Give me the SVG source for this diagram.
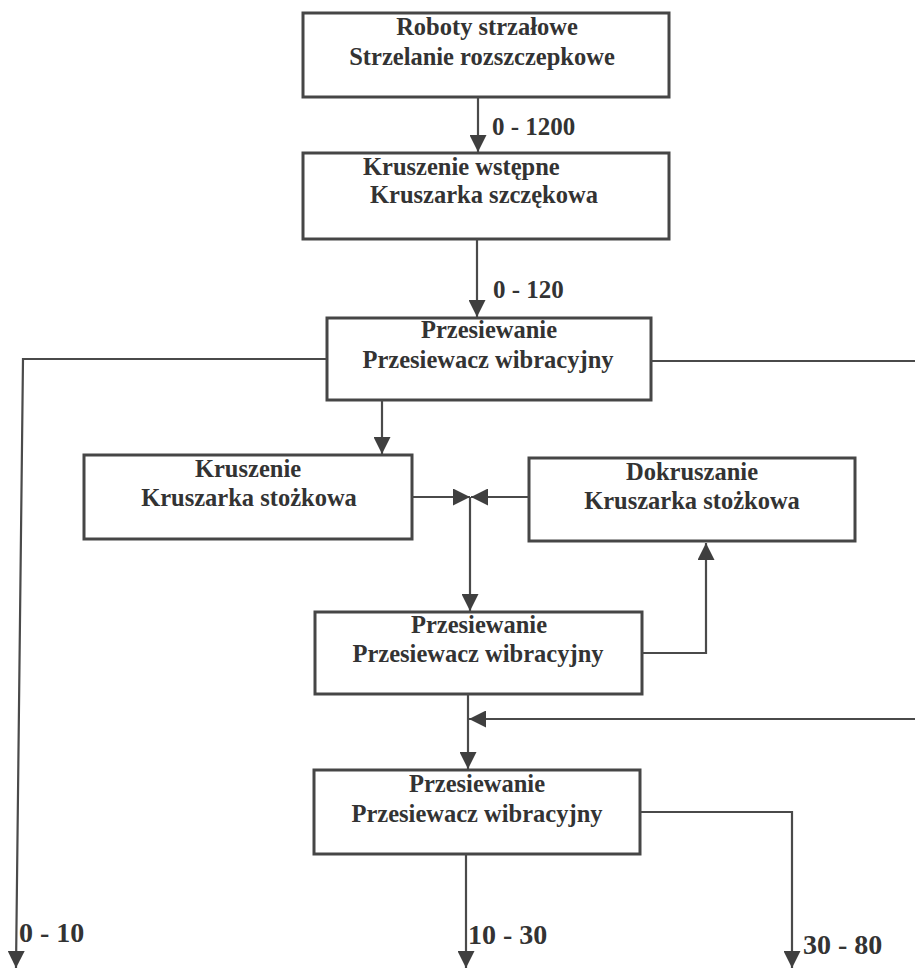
<svg xmlns="http://www.w3.org/2000/svg" width="915" height="969" viewBox="0 0 915 969">
<defs>
<style>
.box{fill:none;stroke:#464646;stroke-width:3}
.ln{fill:none;stroke:#4a4a4a;stroke-width:2.2}
.t{font-family:"Liberation Serif","Times New Roman",serif;font-weight:bold;font-size:24.5px;fill:#333}
.c{text-anchor:middle}
.lb{font-family:"Liberation Serif","Times New Roman",serif;font-weight:bold;font-size:25px;fill:#333}
.lb2{font-family:"Liberation Serif","Times New Roman",serif;font-weight:bold;font-size:28px;fill:#333}
</style>
<marker id="ah" markerUnits="userSpaceOnUse" markerWidth="17" markerHeight="17" refX="16" refY="8" orient="auto" viewBox="0 0 16 16">
<path d="M0,0 L16,8 L0,16 z" fill="#3f3f3f"/>
</marker>
</defs>
<rect width="915" height="969" fill="#ffffff"/>

<g id="n1">
<rect class="box" x="303" y="13" width="366" height="84"/>
<text class="t c" x="487" y="35">Roboty strzałowe</text>
<text class="t c" x="482" y="65">Strzelanie rozszczepkowe</text>
</g>
<g id="n2">
<rect class="box" x="303" y="153" width="366" height="86"/>
<text class="t" x="363" y="175">Kruszenie wstępne</text>
<text class="t" x="370" y="203">Kruszarka szczękowa</text>
</g>
<g id="n3">
<rect class="box" x="327" y="318" width="324" height="82"/>
<text class="t c" x="489" y="338">Przesiewanie</text>
<text class="t c" x="488" y="368">Przesiewacz wibracyjny</text>
</g>
<g id="n4">
<rect class="box" x="84" y="455" width="328" height="84"/>
<text class="t c" x="248" y="477">Kruszenie</text>
<text class="t c" x="249" y="506">Kruszarka stożkowa</text>
</g>
<g id="n5">
<rect class="box" x="529" y="458" width="326" height="83"/>
<text class="t c" x="692" y="480">Dokruszanie</text>
<text class="t c" x="692" y="509">Kruszarka stożkowa</text>
</g>
<g id="n6">
<rect class="box" x="315" y="612" width="327" height="82"/>
<text class="t c" x="479" y="633">Przesiewanie</text>
<text class="t c" x="478" y="662">Przesiewacz wibracyjny</text>
</g>
<g id="n7">
<rect class="box" x="314" y="770" width="326" height="84"/>
<text class="t c" x="477" y="792">Przesiewanie</text>
<text class="t c" x="477" y="822">Przesiewacz wibracyjny</text>
</g>

<g id="connectors">
<path class="ln" d="M478,97 L478,152" marker-end="url(#ah)"/>
<path class="ln" d="M477,239 L477,317" marker-end="url(#ah)"/>
<path class="ln" d="M327,359 L23,359 L16,968" marker-end="url(#ah)"/>
<path class="ln" d="M651,361 L915,361"/>
<path class="ln" d="M382,400 L382,454" marker-end="url(#ah)"/>
<path class="ln" d="M412,497 L470,497" marker-end="url(#ah)"/>
<path class="ln" d="M529,497 L471,497" marker-end="url(#ah)"/>
<path class="ln" d="M470,497 L470,611" marker-end="url(#ah)"/>
<path class="ln" d="M642,653 L706,653 L706,543" marker-end="url(#ah)"/>
<path class="ln" d="M468,694 L468,769" marker-end="url(#ah)"/>
<path class="ln" d="M915,719 L469,719" marker-end="url(#ah)"/>
<path class="ln" d="M640,812 L792,812 L792,968" marker-end="url(#ah)"/>
<path class="ln" d="M466,854 L466,968" marker-end="url(#ah)"/>
</g>

<g id="labels">
<text class="lb" x="492" y="135">0 - 1200</text>
<text class="lb" x="493" y="298">0 - 120</text>
<text class="lb2" x="19" y="942">0 - 10</text>
<text class="lb2" x="468" y="944">10 - 30</text>
<text class="lb2" x="803" y="954">30 - 80</text>
</g>
</svg>
